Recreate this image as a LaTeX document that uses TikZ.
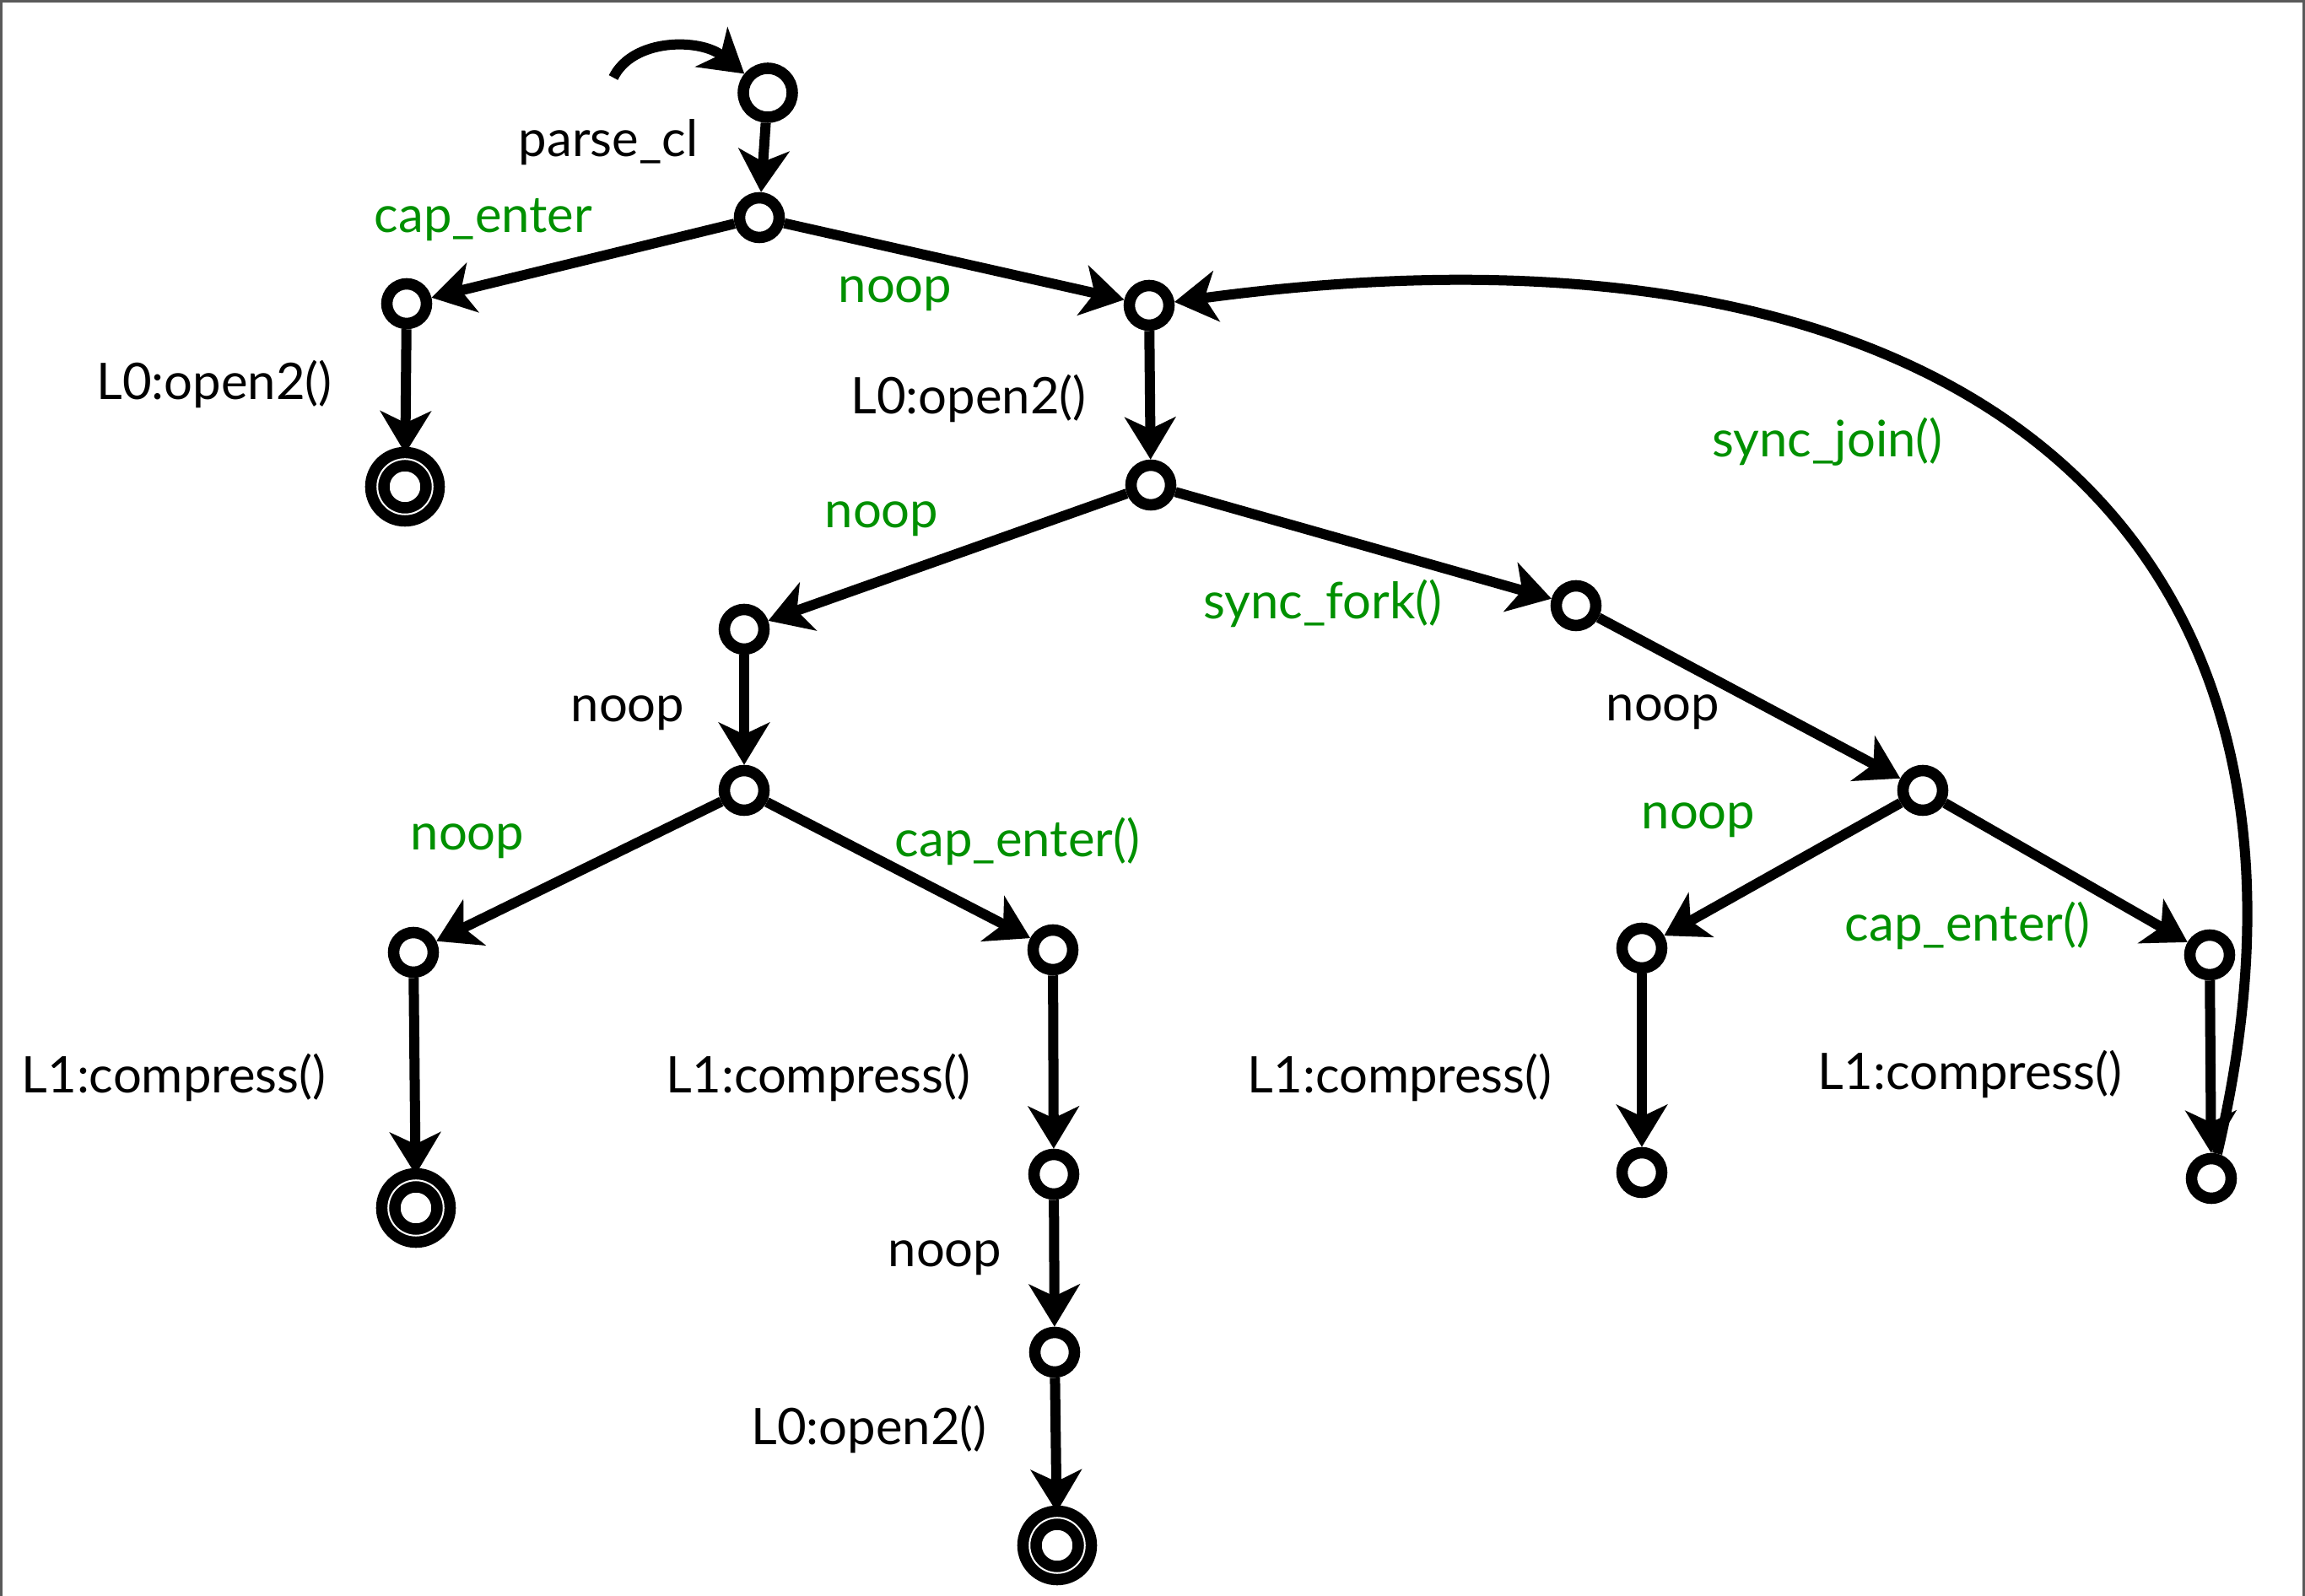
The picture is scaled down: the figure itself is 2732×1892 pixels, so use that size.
\documentclass[tikz,border=0pt]{standalone}
\usepackage{fontspec}
\setmainfont{Lato}
\usetikzlibrary{arrows.meta}
\definecolor{actgreen}{RGB}{0,144,0}
\definecolor{framegray}{RGB}{90,90,90}
\tikzset{
  state/.style={circle, draw, line width=0.135cm, minimum size=0.47cm, inner sep=0pt},
  initstate/.style={state, minimum size=0.58cm},
  final/.style={circle, draw, double, line width=0.135cm, double distance=0.02cm, minimum size=0.655cm, inner sep=0pt},
  edge/.style={line width=0.12cm, -{Stealth[length=0.5cm, width=0.6cm, inset=0.14cm]}},
  lbl/.style={font=\fontsize{17}{20}\selectfont, inner sep=0pt},
  act/.style={lbl, text=actgreen}
}
\begin{document}
\begin{tikzpicture}[x=0.01cm, y=-0.01cm]
    \useasboundingbox (0,0) rectangle (2732,1892);
    \draw[framegray, line width=0.03cm] (1,1892) -- (1,1.5) -- (2730.5,1.5) -- (2730.5,1892);

    \node[initstate] (s0) at (910,110) {};
    \node[state] (s1) at (900,258) {};
    \node[state] (s2) at (482,360) {};
    \node[final] (s3) at (480,577) {};
    \node[state] (s4) at (1362,362) {};
    \node[state] (s5) at (1364,575) {};
    \node[state] (s6) at (882,746) {};
    \node[state] (s7) at (882,937) {};
    \node[state] (s8) at (490,1129) {};
    \node[final] (s9) at (493,1432) {};
    \node[state] (s10) at (1248,1126) {};
    \node[state] (s11) at (1249,1392) {};
    \node[state] (s12) at (1250,1603) {};
    \node[final] (s13) at (1253,1832) {};
    \node[state] (s14) at (1868,718) {};
    \node[state] (s15) at (2279,937) {};
    \node[state] (s16) at (1946,1124) {};
    \node[state] (s17) at (1946,1390) {};
    \node[state] (s18) at (2619,1132) {};
    \node[state] (s19) at (2621,1397) {};

    \coordinate (init) at (727,92);
    \draw[edge] (init) .. controls (750,45) and (830,45) .. (s0);

    \draw[edge] (s0) -- (s1);
    \draw[edge] (s1) -- (s2);
    \draw[edge] (s1) -- (s4);
    \draw[edge] (s2) -- (s3);
    \draw[edge] (s4) -- (s5);
    \draw[edge] (s5) -- (s6);
    \draw[edge] (s5) -- (s14);
    \draw[edge] (s6) -- (s7);
    \draw[edge] (s7) -- (s8);
    \draw[edge] (s7) -- (s10);
    \draw[edge] (s8) -- (s9);
    \draw[edge] (s10) -- (s11);
    \draw[edge] (s11) -- (s12);
    \draw[edge] (s12) -- (s13);
    \draw[edge] (s14) -- (s15);
    \draw[edge] (s15) -- (s16);
    \draw[edge] (s15) -- (s18);
    \draw[edge] (s16) -- (s17);
    \draw[edge] (s18) -- (s19);
    \draw[edge] (s19) .. controls (2800,640) and (2341,230) .. (s4);

    \node[lbl] (l-parse) at (721,169) {parse\_cl};
    \node[act] (l-cap0) at (573,261) {cap\_enter};
    \node[act] (l-noop0) at (1061,348) {noop};
    \node[lbl] (l-open0) at (254,455) {L0:open2()};
    \node[lbl] (l-open1) at (1148,472) {L0:open2()};
    \node[act] (l-join) at (2166,524) {sync\_join()};
    \node[act] (l-noop1) at (1045,615) {noop};
    \node[act] (l-fork) at (1568,715) {sync\_fork()};
    \node[lbl] (l-noop2) at (744,845) {noop};
    \node[lbl] (l-noop3) at (1971,844) {noop};
    \node[act] (l-noop4) at (554,997) {noop};
    \node[act] (l-cap1) at (1206,997) {cap\_enter()};
    \node[act] (l-noop5) at (2013,972) {noop};
    \node[act] (l-cap2) at (2332,1097) {cap\_enter()};
    \node[lbl] (l-comp0) at (206,1277) {L1:compress()};
    \node[lbl] (l-comp1) at (970,1277) {L1:compress()};
    \node[lbl] (l-comp2) at (1659,1277) {L1:compress()};
    \node[lbl] (l-comp3) at (2335,1273) {L1:compress()};
    \node[lbl] (l-noop6) at (1120,1491) {noop};
    \node[lbl] (l-open2) at (1030,1694) {L0:open2()};
\end{tikzpicture}
\end{document}
